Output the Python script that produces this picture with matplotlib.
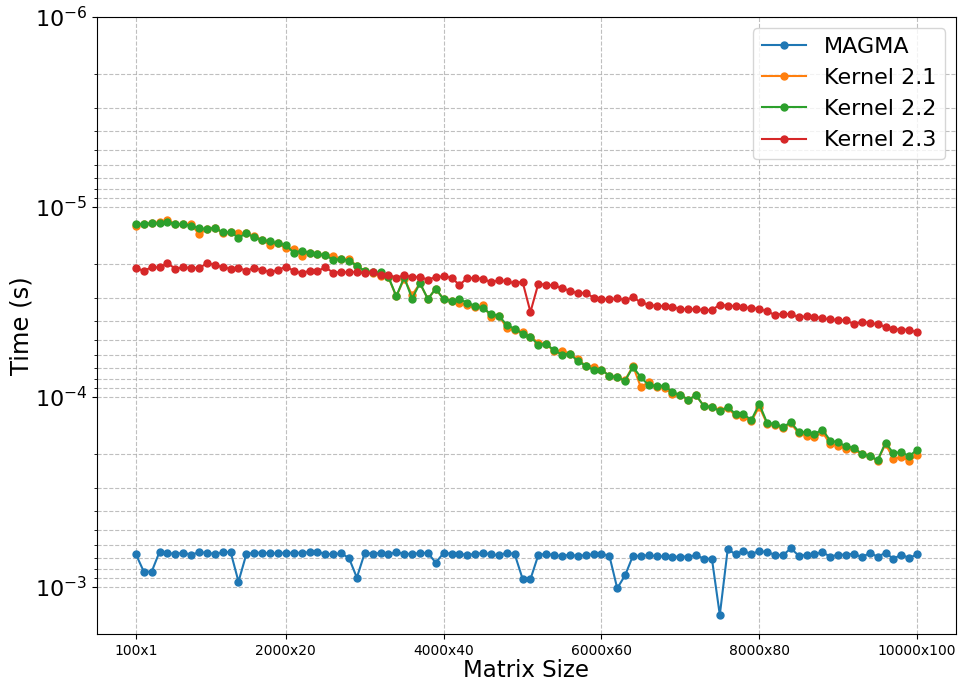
import numpy as np
import matplotlib
matplotlib.use("Agg")
import matplotlib.pyplot as plt

# Matrix sizes: (100*n) x n for n = 1..100
n_values = list(range(1, 101))
tick_n = [1, 20, 40, 60, 80, 100]
tick_labels = [f"{100 * n}x{n}" for n in tick_n]

# Run times in microseconds
magma_us = [
    673, 830, 830, 652, 662, 671, 660, 676, 657, 660,
    671, 657, 654, 937, 671, 660, 660, 665, 665, 660,
    662, 660, 657, 652, 671, 671, 665, 704, 893, 662,
    668, 662, 671, 657, 668, 671, 662, 662, 745, 662,
    668, 671, 676, 671, 662, 673, 681, 660, 671, 904,
    910, 679, 668, 681, 687, 676, 687, 679, 673, 671,
    684, 1016, 868, 684, 687, 679, 690, 690, 695, 692,
    692, 681, 710, 710, 1404, 634, 672, 646, 671, 646,
    657, 676, 681, 626, 684, 679, 671, 657, 692, 676,
    676, 668, 698, 662, 692, 662, 710, 676, 704, 673,
]

kernel_21_us = [
    12.59, 12.24, 12.19, 11.99, 11.71, 12.29, 12.34, 12.29, 13.93, 13.06,
    12.85, 13.70, 13.59, 13.76, 13.76, 14.21, 14.92, 15.85, 15.53, 16.50,
    16.64, 18.11, 17.40, 17.75, 17.89, 18.11, 18.78, 18.85, 20.36, 21.72,
    22.34, 23.08, 23.45, 29.53, 23.84, 29.05, 25.22, 30.50, 26.91, 30.62,
    31.12, 32.14, 32.93, 33.74, 32.80, 38.08, 37.32, 43.17, 44.41, 45.50,
    48.33, 51.76, 52.61, 57.50, 57.28, 59.15, 63.4, 68.4, 69.2, 71.8,
    77.5, 78.8, 81.4, 68.7, 88.9, 83.0, 88.9, 89.3, 96.4, 97.6,
    103.3, 98.0, 112.0, 112.9, 117.1, 114.7, 124.9, 126.9, 134.3, 112.4,
    138.7, 140.4, 145.6, 137.6, 155.3, 159.8, 163.1, 152.8, 177.5, 180.4,
    188.5, 188.5, 200.4, 204.4, 216.3, 176.8, 211.1, 207.7, 216.3, 202.8,
]

kernel_22_us = [
    12.29, 12.24, 12.19, 12.19, 12.04, 12.29, 12.34, 12.54, 12.90, 13.06,
    12.85, 13.59, 13.59, 14.50, 13.76, 14.44, 14.92, 15.16, 15.53, 15.85,
    17.40, 16.97, 17.40, 17.75, 17.89, 19.00, 18.78, 19.24, 20.36, 21.72,
    22.07, 22.07, 23.26, 29.53, 23.45, 30.37, 25.12, 30.50, 26.91, 30.62,
    31.12, 30.50, 31.88, 33.19, 34.15, 36.58, 37.32, 41.80, 43.70, 46.42,
    48.33, 53.04, 52.61, 56.81, 59.87, 59.15, 64.9, 68.4, 72.1, 71.8,
    77.5, 78.8, 82.0, 69.5, 78.8, 86.8, 87.5, 87.2, 94.5, 97.6,
    103.3, 98.0, 112.0, 112.9, 118.5, 112.9, 122.9, 123.4, 132.1, 108.8,
    137.0, 138.7, 143.9, 135.9, 152.2, 153.5, 156.6, 148.5, 169.7, 173.2,
    181.8, 184.8, 199.5, 203.6, 215.4, 174.0, 197.9, 194.7, 205.2, 189.3,
]

kernel_23_us = [
    21.02, 21.63, 20.77, 20.77, 19.79, 21.11, 20.77, 20.94, 20.94, 19.79,
    20.12, 20.77, 21.11, 20.94, 21.63, 20.94, 21.46, 21.98, 21.46, 20.61,
    21.63, 22.34, 21.63, 21.72, 20.77, 22.16, 21.98, 22.07, 21.90, 22.34,
    22.07, 22.89, 22.71, 23.54, 22.89, 23.35, 23.35, 24.13, 23.35, 23.17,
    23.54, 25.73, 23.64, 23.64, 23.93, 24.81, 24.32, 24.52, 25.22, 24.71,
    35.70, 25.32, 25.73, 25.84, 26.80, 27.56, 28.47, 28.24, 30.01, 30.50,
    30.62, 30.25, 30.87, 29.88, 31.75, 32.66, 33.19, 33.19, 33.46, 34.56,
    34.42, 34.56, 34.84, 34.84, 32.66, 33.10, 33.19, 33.74, 34.01, 34.42,
    35.41, 37.02, 36.42, 36.72, 37.93, 37.63, 37.78, 38.55, 39.02, 39.33,
    39.49, 41.29, 40.30, 40.63, 41.46, 42.65, 43.87, 44.22, 44.22, 45.67,
]

series = [
    ("MAGMA", magma_us),
    ("Kernel 2.1", kernel_21_us),
    ("Kernel 2.2", kernel_22_us),
    ("Kernel 2.3", kernel_23_us),
]

fig, ax = plt.subplots(figsize=(9.59, 6.82), dpi=100)
fig.subplots_adjust(left=0.101, right=0.997, top=0.975, bottom=0.0704)

for label, values in series:
    ax.plot(n_values, np.asarray(values) * 1e-6, marker="o", markersize=5,
            linewidth=1.5, label=label)

# log time axis, with the fastest times at the top
ax.set_yscale("log")
ax.set_ylim(1.768e-3, 1e-6)

ax.set_xticks(tick_n)
ax.set_xticklabels(tick_labels, fontsize=10)
ax.tick_params(axis="y", which="major", labelsize=16)

ax.set_xlabel("Matrix Size", fontsize=16.5, labelpad=1)
ax.set_ylabel("Time (s)", fontsize=17.5, labelpad=1)

ax.grid(True, which="both", linestyle="--", color="#b0b0b0", alpha=0.8, linewidth=0.8)
ax.legend(loc="upper right", fontsize=16)

fig.savefig("out.png", dpi=100)
